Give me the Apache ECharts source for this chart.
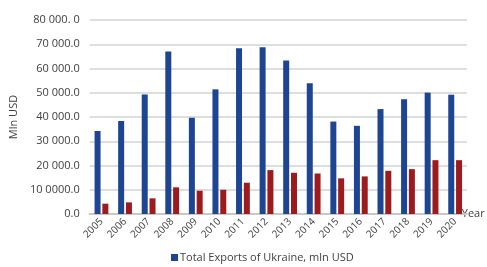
<!DOCTYPE html>
<html>
<head>
<meta charset="utf-8">
<script src="https://cdn.jsdelivr.net/npm/echarts@6/dist/echarts.min.js"></script>
<style>
  html, body { margin: 0; padding: 0; background: #fff; }
  #chart { width: 487px; height: 267px; }
</style>
</head>
<body>
<div id="chart"></div>
<script>
const years = ['2005', '2006', '2007', '2008', '2009', '2010', '2011', '2012',
  '2013', '2014', '2015', '2016', '2017', '2018', '2019', '2020']
// blue bars (legend series)
const totalExports = [34228, 38368, 49296, 66967, 39696, 51405, 68394, 68810,
  63320, 53902, 38127, 36361, 43265, 47335, 50054, 49192]
// red bars (not in legend)
const secondSeries = [4250, 4800, 6450, 11000, 9600, 10000, 12900, 18100,
  17000, 16700, 14700, 15500, 17800, 18500, 22200, 22200]
// tick labels as printed on the original, typos included
const yTickLabels = ['0.0', '10 0000.0', '20 000.0', '30 000.0', '40 000.0',
  '50 000.0', '60 000.0', '70 000.0', '80 000. 0']

const myChart = echarts.init(document.getElementById('chart'))
const font = '"Open Sans", sans-serif'

let option = {
  animation: false,
  grid: { left: 82, right: 6, top: 20, bottom: 53 },
  legend: {
    data: ['Total Exports of Ukraine, mln USD'],
    left: 166,
    top: 247,
    icon: 'rect',
    itemWidth: 7,
    itemHeight: 7,
    itemGap: 2,
    textStyle: { fontFamily: font, fontSize: 11, color: '#404040', padding: [0, 0, 0, -3] },
  },
  xAxis: {
    type: 'category',
    data: years,
    name: 'Year',
    nameLocation: 'end',
    nameGap: -13,
    nameTextStyle: { fontFamily: font, fontSize: 11, color: '#404040', verticalAlign: 'middle' },
    axisTick: { show: false },
    axisLine: { lineStyle: { color: '#c8c8c8', width: 2 } },
    axisLabel: {
      rotate: 45,
      fontFamily: font,
      fontSize: 10,
      color: '#404040',
      margin: 6,
      interval: 0,
    },
  },
  yAxis: {
    type: 'value',
    min: 0,
    max: 80000,
    interval: 10000,
    name: 'Mln USD',
    nameLocation: 'middle',
    nameRotate: 90,
    nameGap: 66,
    nameTextStyle: { fontFamily: font, fontSize: 11, color: '#404040' },
    axisLine: { show: false },
    axisTick: { show: false },
    axisLabel: {
      fontFamily: font,
      fontSize: 11,
      color: '#404040',
      margin: 10,
      formatter: (v) => yTickLabels[Math.round(v / 10000)],
    },
    splitLine: { lineStyle: { color: '#d3d3d3', width: 1.5 } },
  },
  series: [
    {
      name: 'Total Exports of Ukraine, mln USD',
      type: 'bar',
      data: totalExports,
      barWidth: 6,
      barGap: '30%',
      itemStyle: { color: '#1d4592' },
    },
    {
      name: 'Other exports',
      type: 'bar',
      data: secondSeries,
      barWidth: 6,
      itemStyle: { color: '#9b1b1f' },
    },
  ],
}
myChart.setOption(option)
</script>
</body>
</html>
